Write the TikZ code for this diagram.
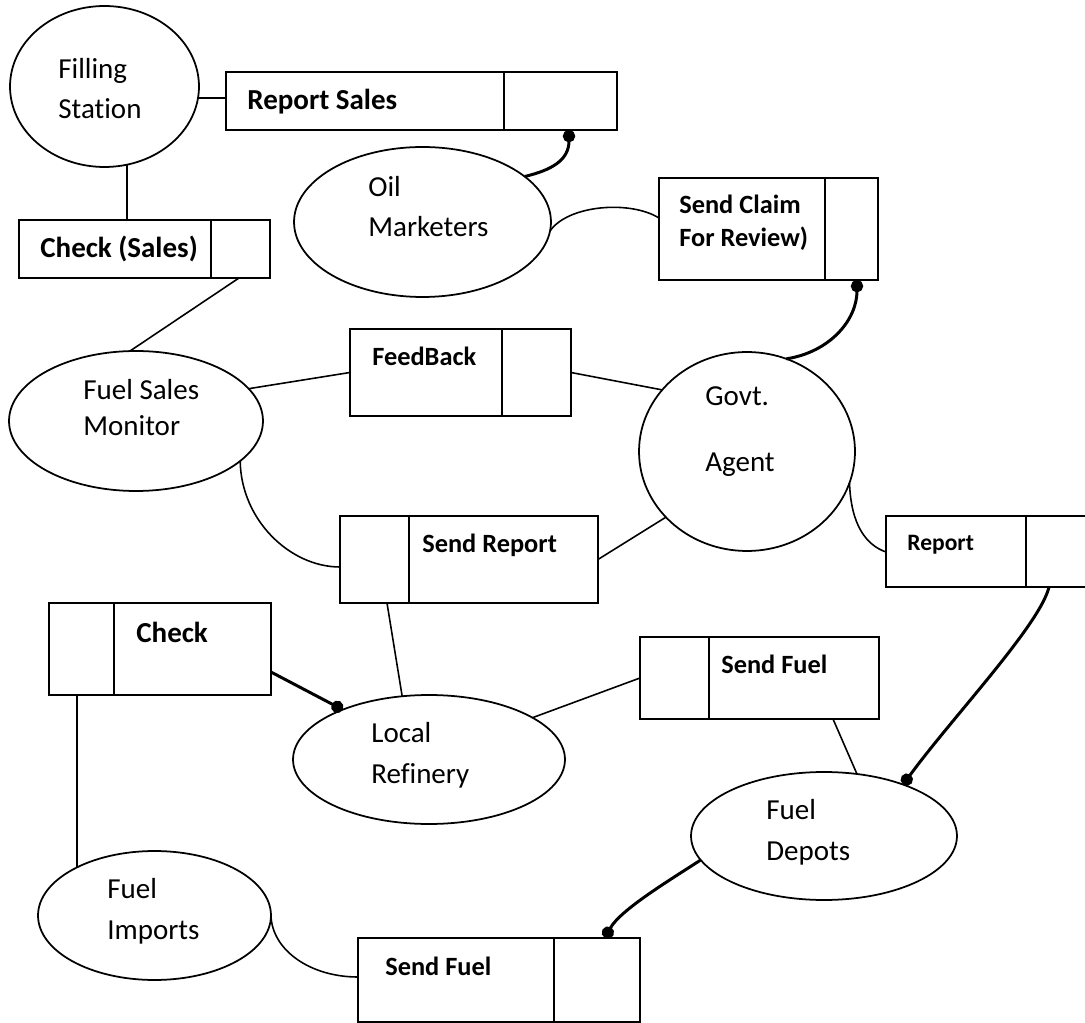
\documentclass[tikz,border=0pt]{standalone}
\usepackage{fontspec}
\setmainfont{Carlito}[Ligatures=NoCommon]
\usepackage{tikz}
\usetikzlibrary{shapes.geometric,arrows.meta}

\tikzset{
  proc/.style={draw, ellipse, line width=1pt, inner sep=0pt, outer sep=0pt},
  store/.style={draw, rectangle, line width=1pt, inner sep=0pt, outer sep=0pt, anchor=north west},
  lbl/.style={inner sep=0pt, anchor=base west, align=left, font=\fontsize{16.5}{23.3}\selectfont},
  blbl/.style={lbl, font=\fontsize{16.5}{23.3}\selectfont\bfseries},
  sblbl/.style={lbl, font=\fontsize{15}{18.8}\selectfont\bfseries},
  flow/.style={line width=0.9pt},
  dflow/.style={line width=1.7pt, -{Circle[length=7pt,width=7pt]}}
}

\begin{document}
\begin{tikzpicture}[x=0.02cm, y=-0.02cm]
\useasboundingbox (0,0) rectangle (1085,1023);
\clip (0,0) rectangle (1085,1023);

% processes
\node[proc, minimum width=3.78cm, minimum height=3.22cm] (fs) at (104.5,86.5) {};
\node[proc, minimum width=5.14cm, minimum height=3.0cm] (om) at (422.5,222) {};
\node[proc, minimum width=5.08cm, minimum height=2.8cm] (fsm) at (136,421) {};
\node[proc, minimum width=4.32cm, minimum height=3.98cm] (ga) at (747,451.5) {};
\node[proc, minimum width=5.44cm, minimum height=2.58cm] (lr) at (429,759.5) {};
\node[proc, minimum width=5.32cm, minimum height=2.56cm] (fd) at (824,836) {};
\node[proc, minimum width=4.66cm, minimum height=2.58cm] (fi) at (154.5,915.5) {};

% data stores
\node[store, minimum width=7.82cm, minimum height=1.16cm] (rs) at (226,72) {};
\node[store, minimum width=5.02cm, minimum height=1.16cm] (cs) at (19,220) {};
\node[store, minimum width=4.38cm, minimum height=2.04cm] (sc) at (659,178) {};
\node[store, minimum width=4.42cm, minimum height=1.74cm] (fb) at (350,329) {};
\node[store, minimum width=5.16cm, minimum height=1.74cm] (sr) at (340,516) {};
\node[store, minimum width=4.44cm, minimum height=1.84cm] (ck) at (49,603) {};
\node[store, minimum width=4.78cm, minimum height=1.64cm] (sf1) at (640,637) {};
\node[store, minimum width=4.28cm, minimum height=1.42cm] (rp) at (886,516) {};
\node[store, minimum width=5.64cm, minimum height=1.68cm] (sf2) at (358,938) {};

% store dividers
\draw[line width=1pt] (504,0 |- rs.north) -- (504,0 |- rs.south);
\draw[line width=1pt] (211,0 |- cs.north) -- (211,0 |- cs.south);
\draw[line width=1pt] (825,0 |- sc.north) -- (825,0 |- sc.south);
\draw[line width=1pt] (502,0 |- fb.north) -- (502,0 |- fb.south);
\draw[line width=1pt] (409,0 |- sr.north) -- (409,0 |- sr.south);
\draw[line width=1pt] (114,0 |- ck.north) -- (114,0 |- ck.south);
\draw[line width=1pt] (709,0 |- sf1.north) -- (709,0 |- sf1.south);
\draw[line width=1pt] (1026,0 |- rp.north) -- (1026,0 |- rp.south);
\draw[line width=1pt] (554,0 |- sf2.north) -- (554,0 |- sf2.south);

% labels (base = last line)
\node[lbl] (fst) at (58,119) {Filling\\Station};
\node[lbl] (omt) at (368,237) {Oil\\Marketers};
\node[lbl] (fsmt) at (83,436) {Fuel Sales\\[-2.8pt]Monitor};
\node[lbl] (gat) at (705,472) {Govt.\\[14.8pt]Agent};
\node[lbl] (lrt) at (371,783) {Local\\Refinery};
\node[lbl] (fdt) at (766,860) {Fuel\\Depots};
\node[lbl] (fit) at (107,939) {Fuel\\Imports};
\node[blbl] (rst) at (247,110) {Report Sales};
\node[blbl] (cst) at (40,258) {Check (Sales)};
\node[sblbl] (sct) at (679,247) {Send Claim\\For Review)};
\node[sblbl] (fbt) at (372,366) {FeedBack};
\node[sblbl] (srt) at (422,552) {Send Report};
\node[blbl] (ckt) at (136,642) {Check};
\node[sblbl] (sf1t) at (721,673) {Send Fuel};
\node[lbl, font=\fontsize{13.4}{16}\selectfont\bfseries] (rpt) at (907,550) {Report};
\node[sblbl] (sf2t) at (385,975) {Send Fuel};

% flows
\draw[flow] (fs.-7) -- (rs.west |- fs.-7);
\draw[flow] (fs.-74) -- (fs.-74 |- cs.north);
\draw[flow] (cs.south -| 239,0) -- (fsm.95);
\draw[dflow] (om.24) .. controls (552,170) and (569,160) .. (rs.south -| 569,0);
\draw[flow] (om.-4) .. controls (568,205) and (630,200) .. (sc.west |- 0,218);
\draw[dflow] (ga.67) .. controls (830,352) and (857,320) .. (sc.south -| 857,0);
\draw[flow] (fsm.16) -- (fb.west);
\draw[flow] (fb.east) -- (ga.144);
\draw[flow] (fsm.-21) .. controls (241,520) and (290,567) .. (sr.west |- 0,567);
\draw[flow] (sr.east) -- (ga.-141);
\draw[flow] (sr.south -| 387,0) -- (lr.113);
\draw[dflow] (ck.east |- 0,672) -- (lr.150);
\draw[flow] (ck.south -| fi.148) -- (fi.148);
\draw[flow] (lr.22) -- (sf1.west);
\draw[flow] (sf1.south -| 833,0) -- (fd.62);
\draw[flow] (ga.-17) .. controls (851,525) and (866,545) .. (rp.west |- 0,552);
\draw[dflow] (rp.south -| 1049,0) .. controls (1040,625) and (950,720) .. (fd.33);
\draw[dflow] (fd.191) .. controls (670,880) and (620,910) .. (sf2.north -| 605,0);
\draw[flow] (fi.east) .. controls (272,950) and (310,977) .. (sf2.west |- 0,977);
\end{tikzpicture}
\end{document}
